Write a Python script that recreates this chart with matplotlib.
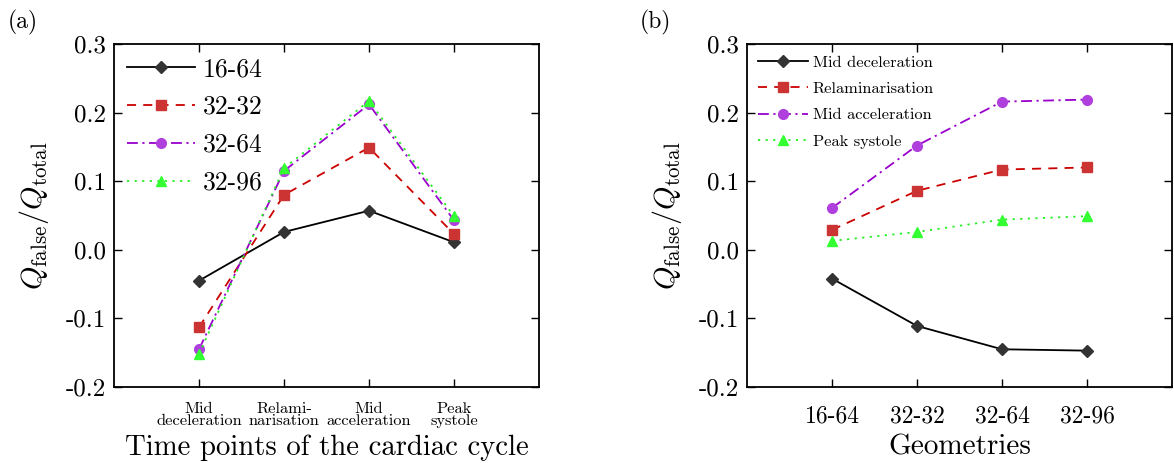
import matplotlib
matplotlib.use("Agg")
import matplotlib.pyplot as plt
from matplotlib.ticker import FixedLocator, FixedFormatter

plt.rcParams['font.family'] = ['cmr10', 'DejaVu Serif']
plt.rcParams['mathtext.fontset'] = 'cm'
plt.rcParams['axes.unicode_minus'] = False
plt.rcParams['axes.formatter.use_mathtext'] = True

# ---- data ----
time_points = ["Mid\ndeceleration", "Relami-\nnarisation", "Mid\nacceleration", "Peak\nsystole"]
geometries = ["16-64", "32-32", "32-64", "32-96"]

# panel (a): per geometry, values at the four time points
a_16_64 = [-0.045, 0.026, 0.057, 0.011]
a_32_32 = [-0.113, 0.080, 0.149, 0.023]
a_32_64 = [-0.145, 0.115, 0.212, 0.043]
a_32_96 = [-0.152, 0.119, 0.217, 0.049]

# panel (b): per time point, values across the four geometries
b_mid_decel = [-0.042, -0.111, -0.145, -0.147]
b_relam = [0.029, 0.086, 0.117, 0.120]
b_mid_accel = [0.061, 0.152, 0.216, 0.219]
b_peak = [0.013, 0.026, 0.044, 0.049]

time_names = ["Mid deceleration", "Relaminarisation", "Mid acceleration", "Peak systole"]
yticks = [-0.2, -0.1, 0.0, 0.1, 0.2, 0.3]
ytick_labels = ["-0.2", "-0.1", "0.0", "0.1", "0.2", "0.3"]

styles = [
    dict(color="black", ls="-", marker="D", mfc="#333333", mec="#333333", ms=6),
    dict(color="#cc0000", ls=(0, (5, 4)), marker="s", mfc="#cc3333", mec="#cc3333", ms=7),
    dict(color="#9900cc", ls=(0, (6, 2.5, 1.2, 2.5)), marker="o", mfc="#b040dd", mec="#b040dd", ms=7),
    dict(color="#22ee22", ls=(0, (1.2, 3)), marker="^", mfc="#33ff33", mec="#33ff33", ms=7),
]

W, H = 1174, 463
fig = plt.figure(figsize=(W / 100, H / 100), dpi=100)
axa = fig.add_axes([114 / W, 1 - 387 / H, (539 - 114) / W, (387 - 44) / H])
axb = fig.add_axes([747 / W, 1 - 387 / H, (1172 - 747) / W, (387 - 44) / H])

xs = [1, 2, 3, 4]

def setup(ax):
    ax.set_xlim(0, 5)
    ax.set_ylim(-0.2, 0.3)
    ax.yaxis.set_major_locator(FixedLocator(yticks))
    ax.yaxis.set_major_formatter(FixedFormatter(ytick_labels))
    ax.xaxis.set_major_locator(FixedLocator(xs))
    ax.tick_params(direction="in", top=True, right=True, length=6, width=1.0)
    ax.tick_params(axis="y", labelsize=18, pad=5.5)
    for s in ax.spines.values():
        s.set_linewidth(1.3)
    ax.set_ylabel(r"$Q_{\mathrm{false}}/Q_{\mathrm{total}}$", fontsize=21.5, labelpad=11)

# panel (a)
setup(axa)
for vals, lab, st in zip([a_16_64, a_32_32, a_32_64, a_32_96], geometries, styles):
    axa.plot(xs, vals, label=lab, lw=1.3, **st)
axa.set_xticklabels(time_points, fontsize=11.8, linespacing=0.82)
axa.tick_params(axis="x", pad=11)
axa.set_xlabel("Time points of the cardiac cycle", fontsize=20.7, labelpad=5)
axa.legend(loc="upper left", frameon=False, fontsize=18.5, handlelength=2.65,
           labelspacing=0.55, borderaxespad=0.12, handletextpad=0.3,
           bbox_to_anchor=(0.0, 1.0))

# panel (b)
setup(axb)
for vals, lab, st in zip([b_mid_decel, b_relam, b_mid_accel, b_peak], time_names, styles):
    axb.plot(xs, vals, label=lab, lw=1.3, **st)
axb.set_xticklabels(geometries, fontsize=17)
axb.tick_params(axis="x", pad=13)
axb.set_xlabel("Geometries", fontsize=21, labelpad=5)
axb.legend(loc="upper left", frameon=False, fontsize=11.8, handlelength=3.0,
           labelspacing=0.72, borderaxespad=0.3, handletextpad=0.3,
           bbox_to_anchor=(0.0, 1.0))

fig.text(8 / W, 1 - 28 / H, "(a)", fontsize=17)
fig.text(640 / W, 1 - 28 / H, "(b)", fontsize=17)

fig.savefig("out.png", dpi=100)
